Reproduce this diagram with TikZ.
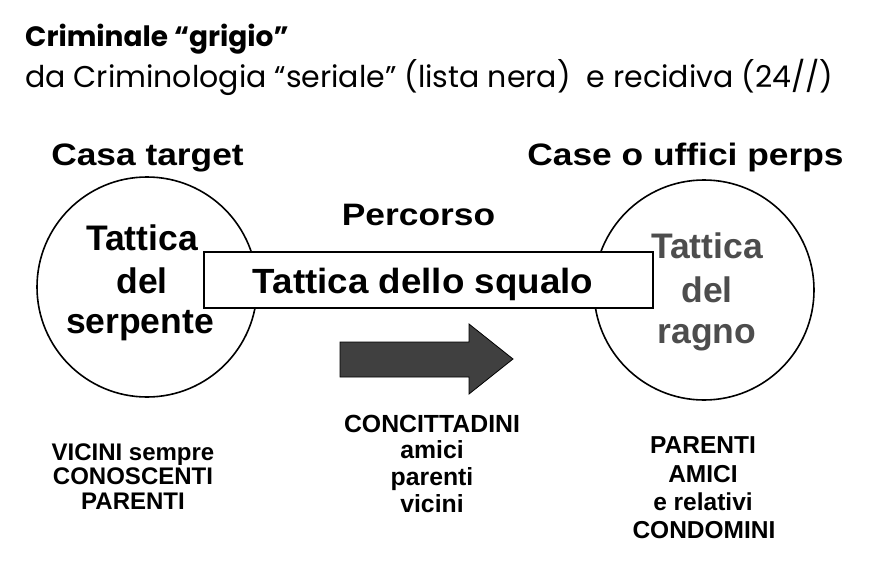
\documentclass[tikz,border=0pt]{standalone}
\usepackage{graphicx}
\usepackage{fontspec}
\setmainfont{Liberation Sans}
\newfontfamily\titlefont{Poppins}
\newcommand\hstretchtext[2]{\scalebox{#1}[1]{#2}}
\definecolor{arrowgray}{HTML}{404040}
\definecolor{spidergray}{HTML}{4D4D4D}
\tikzset{
  ring/.style={circle, draw=black, line width=1.6pt, minimum size=220pt, inner sep=0pt},
  squalobox/.style={rectangle, draw=black, fill=white, line width=1.6pt, inner sep=0pt, minimum width=449pt, minimum height=56pt},
  lbl/.style={anchor=base, inner sep=0pt, font=\bfseries\fontsize{#1}{#1}\selectfont},
  ttl/.style={anchor=base west, inner sep=0pt},
}
\begin{document}
\begin{tikzpicture}[x=1pt,y=-1pt]
\useasboundingbox (0,0) rectangle (880,586);
% titles
\node[ttl, font=\titlefont\bfseries\fontsize{28}{28}\selectfont] (t1) at (25,47) {Criminale “grigio”};
\node[ttl, font=\titlefont\fontsize{30}{30}\selectfont] (t2) at (25,87) {da Criminologia “seriale” (lista nera)\ \ e recidiva (24//)};
% circles
\node[ring] (cl) at (147,287) {};
\node[ring] (cr) at (704,290) {};
% box
\node[squalobox] (box) at (428.5,280) {};
\node[lbl=35] (sq) at (423,293) {\hstretchtext{1.05}{Tattica dello squalo}};
% headings
\node[lbl=31] (h1) at (147.5,165) {\hstretchtext{1.14}{Casa target}};
\node[lbl=31] (h2) at (685.5,165) {\hstretchtext{1.14}{Case o uffici perps}};
\node[lbl=31] (h3) at (418.5,225) {\hstretchtext{1.14}{Percorso}};
% left circle text
\node[lbl=35.5] (l1) at (142,250) {Tattica};
\node[lbl=35.5] (l2) at (142,293) {del};
\node[lbl=35.5] (l3) at (140,333) {serpente};
% right circle text
\node[lbl=35.5, text=spidergray] (r1) at (707,258) {Tattica};
\node[lbl=35.5, text=spidergray] (r2) at (707,302) {del};
\node[lbl=35.5, text=spidergray] (r3) at (707,343) {ragno};
% arrow
\coordinate (a1) at (340,342);
\coordinate (a2) at (469,342);
\coordinate (a3) at (469,324);
\coordinate (a4) at (513,359);
\coordinate (a5) at (469,394);
\coordinate (a6) at (469,377);
\coordinate (a7) at (340,377);
\draw[fill=arrowgray, draw=black, line width=0.8pt, line join=miter] (a1) -- (a2) -- (a3) -- (a4) -- (a5) -- (a6) -- (a7) -- cycle;
% bottom texts
\node[lbl=24] (b1) at (133,460) {VICINI sempre};
\node[lbl=24] (b2) at (133,484) {CONOSCENTI};
\node[lbl=24] (b3) at (133,509) {PARENTI};
\node[lbl=24.8] (c1) at (432,432) {CONCITTADINI};
\node[lbl=24.8] (c2) at (432,458) {amici};
\node[lbl=24.8] (c3) at (432,485) {parenti};
\node[lbl=24.8] (c4) at (432,512) {vicini};
\node[lbl=24.5] (d1) at (703,453) {PARENTI};
\node[lbl=24.5] (d2) at (703,482) {AMICI};
\node[lbl=24.5] (d3) at (703,510) {e relativi};
\node[lbl=24.5] (d4) at (704,538) {CONDOMINI};
\end{tikzpicture}
\end{document}
